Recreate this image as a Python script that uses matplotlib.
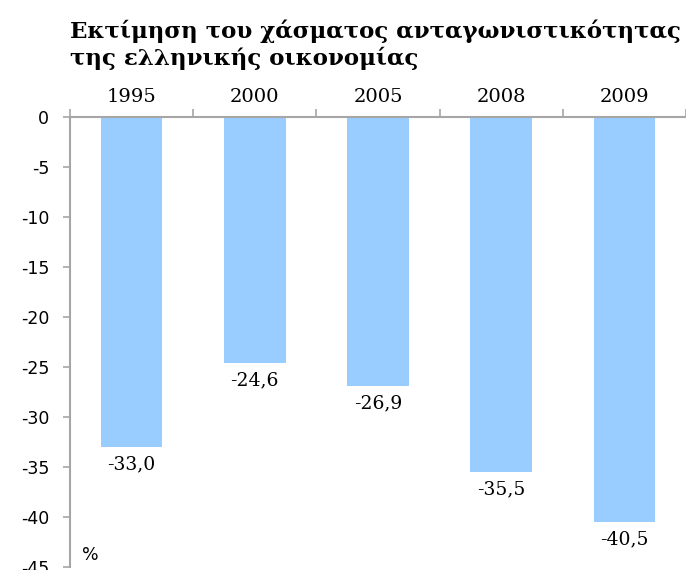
import numpy as np
import matplotlib.pyplot as plt

years = ['1995', '2000', '2005', '2008', '2009']
gap = [-33.0, -24.6, -26.9, -35.5, -40.5]
labels = ['-33,0', '-24,6', '-26,9', '-35,5', '-40,5']
yticks = [0, -5, -10, -15, -20, -25, -30, -35, -40, -45]

fig = plt.figure(figsize=(6.86, 5.70), dpi=100)
ax = fig.add_axes([0.102, 0.005, 0.898, 0.79])

x = np.arange(len(years))
ax.bar(x, gap, width=0.5, color='#99CCFF')

ax.set_xlim(-0.5, len(years) - 0.5)
ax.set_ylim(-45, 0)

# x axis sits on the zero line at the top
ax.xaxis.tick_top()
ax.set_xticks(x)
ax.set_xticklabels(years, fontfamily='DejaVu Serif', fontsize=14)
ax.tick_params(axis='x', which='major', length=0, pad=8)
ax.set_xticks(np.arange(-0.5, len(years)), minor=True)
ax.tick_params(axis='x', which='minor', length=6, width=1.2, color='#A6A6A6', direction='out')

ax.set_yticks(yticks)
ax.set_yticklabels([str(t) for t in yticks], fontfamily='DejaVu Sans', fontsize=12.5)
ax.tick_params(axis='y', length=5, width=1.2, color='#A6A6A6', pad=10)

for s in ['right', 'bottom']:
    ax.spines[s].set_visible(False)
for s in ['left', 'top']:
    ax.spines[s].set_color('#A6A6A6')
    ax.spines[s].set_linewidth(1.5)

for xi, v, lab in zip(x, gap, labels):
    ax.annotate(lab, (xi, v), xytext=(0, -6), textcoords='offset points',
                ha='center', va='top', fontfamily='DejaVu Serif', fontsize=13.5)

ax.text(0.02, 0.015, '%', transform=ax.transAxes, fontfamily='DejaVu Sans', fontsize=12.5)

fig.text(0.102, 0.946, 'Εκτίμηση του χάσματος ανταγωνιστικότητας', fontfamily='DejaVu Serif',
         fontsize=16.5, fontweight='bold', va='center')
fig.text(0.102, 0.898, 'της ελληνικής οικονομίας', fontfamily='DejaVu Serif',
         fontsize=16.5, fontweight='bold', va='center')

fig.savefig('out.png', dpi=100)
